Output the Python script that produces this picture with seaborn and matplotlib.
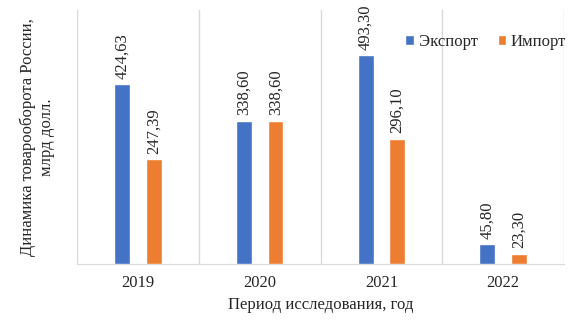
import matplotlib
matplotlib.use("Agg")
import matplotlib.pyplot as plt
import seaborn as sns
import pandas as pd

years = ["2019", "2020", "2021", "2022"]
export = [424.63, 338.60, 493.30, 45.80]
imports = [247.39, 338.60, 296.10, 23.30]
series = ["Экспорт", "Импорт"]

df = pd.DataFrame({
    "year": years * 2,
    "value": export + imports,
    "kind": [series[0]] * 4 + [series[1]] * 4,
})

sns.set_style("white")
plt.rcParams['font.family'] = ['Liberation Serif', 'DejaVu Serif']

fig = plt.figure(figsize=(5.75, 3.21), dpi=100)
ax = fig.add_axes([0.134, 0.178, 0.847, 0.791])

sns.barplot(data=df, x="year", y="value", hue="kind", ax=ax,
            palette=["#4472C4", "#ED7D31"], width=0.52, gap=0.5,
            saturation=1, zorder=3)

# value labels with comma decimals
for cont in ax.containers:
    labels = [f"{b.get_height():.2f}".replace(".", ",") for b in cont]
    ax.bar_label(cont, labels=labels, rotation=90, padding=4, fontsize=12)

ax.set_ylim(0, 600)
ax.set_xlim(-0.5, 3.5)
ax.set_yticks([])
for x in [-0.5, 0.5, 1.5, 2.5, 3.5]:
    ax.axvline(x, color="#d9d9d9", lw=1, zorder=1)
for s in ["top", "right", "left"]:
    ax.spines[s].set_visible(False)
ax.spines["bottom"].set_color("#d9d9d9")
ax.tick_params(axis="x", length=0, labelsize=12, pad=8)

ax.set_xlabel("Период исследования, год", fontsize=12, labelpad=4)
ax.set_ylabel("Динамика товарооборота России,\nмлрд долл.", fontsize=12, labelpad=16)

ax.legend(loc="upper right", bbox_to_anchor=(1.025, 0.945), ncol=2, frameon=False,
          fontsize=12, handlelength=0.5, handleheight=0.5, handletextpad=0.3,
          columnspacing=1.2, borderaxespad=0.2)

fig.savefig("out.png", dpi=100)
